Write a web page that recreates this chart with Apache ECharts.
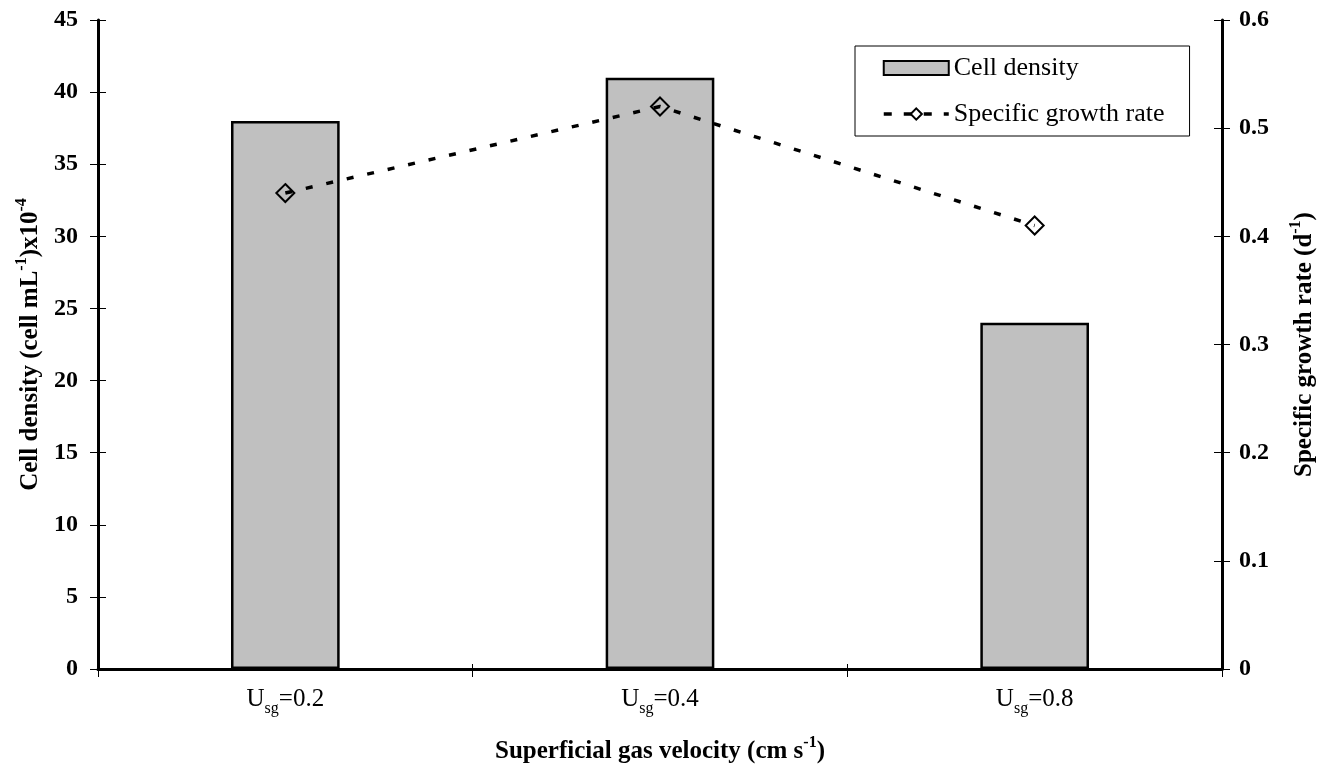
<!DOCTYPE html>
<html>
<head>
<meta charset="utf-8">
<script src="https://cdn.jsdelivr.net/npm/echarts@6/dist/echarts.min.js"></script>
<style>html,body{margin:0;padding:0;background:#fff;}#c{width:1336px;height:769px;}</style>
</head>
<body>
<div id="c"></div>
<script>
const categories = ['0.2', '0.4', '0.8'];
const cellDensity = [38, 41, 24];
const growthRate = [0.44, 0.52, 0.41];
const leftTicks = {min: 0, max: 45, interval: 5};
const rightTicks = {min: 0, max: 0.6, interval: 0.1};

const FONT = '"Liberation Serif", "Times New Roman", serif';
const chart = echarts.init(document.getElementById('c'));

const supRich = {
  b: {fontFamily: FONT, fontWeight: 'bold', fontSize: 25, color: '#000', lineHeight: 29, verticalAlign: 'bottom'},
  sup: {fontFamily: FONT, fontWeight: 'bold', fontSize: 16, color: '#000', lineHeight: 16, verticalAlign: 'top'}
};

chart.setOption({
  animation: false,
  backgroundColor: '#fff',
  grid: {left: 98, right: 114, top: 20, bottom: 99},
  legend: {
    orient: 'vertical',
    left: 855, top: 46,
    padding: [9, 25, 9, 27],
    borderColor: '#000', borderWidth: 1,
    itemWidth: 65, itemHeight: 14,
    itemGap: 20,
    textStyle: {fontFamily: FONT, fontSize: 26, color: '#000'},
    data: [
      {name: 'Cell density', icon: 'rect'},
      {name: 'Specific growth rate', lineStyle: {width: 3.5, type: [8, 12], color: '#000'}}
    ]
  },
  xAxis: [
    {
      type: 'category',
      data: categories,
      boundaryGap: true,
      axisLine: {lineStyle: {color: '#000', width: 3}},
      axisTick: {show: true, length: 8, lineStyle: {color: '#000', width: 1}, alignWithLabel: false},
      axisLabel: {
        margin: 18,
        formatter: v => '{a|U}{s|sg}{a|=' + v + '}',
        rich: {
          a: {fontFamily: FONT, fontSize: 25, color: '#000', lineHeight: 30, verticalAlign: 'top'},
          s: {fontFamily: FONT, fontSize: 16, color: '#000', lineHeight: 16, verticalAlign: 'bottom'}
        }
      },
      name: '{b|Superficial gas velocity (cm s}{sup|-1}{b|)}',
      nameLocation: 'middle',
      nameGap: 66,
      nameTextStyle: {rich: supRich}
    },
    {
      type: 'category',
      data: categories,
      position: 'bottom',
      boundaryGap: true,
      axisLine: {show: false},
      axisLabel: {show: false},
      axisTick: {show: true, inside: true, length: 5, lineStyle: {color: '#000', width: 1}}
    }
  ],
  yAxis: [
    {
      type: 'value', position: 'left',
      min: leftTicks.min, max: leftTicks.max, interval: leftTicks.interval,
      splitLine: {show: false},
      axisLine: {show: true, lineStyle: {color: '#000', width: 3}},
      axisTick: {show: true, length: 8, lineStyle: {color: '#000', width: 1}},
      axisLabel: {margin: 20, fontFamily: FONT, fontWeight: 'bold', fontSize: 24, color: '#000'},
      name: '{b|Cell density (cell mL}{sup|-1}{b|)x10}{sup|-4}',
      nameLocation: 'middle', nameRotate: 90, nameGap: 50,
      nameTextStyle: {rich: supRich}
    },
    {
      type: 'value', position: 'right',
      min: rightTicks.min, max: rightTicks.max, interval: rightTicks.interval,
      splitLine: {show: false},
      axisLine: {show: true, lineStyle: {color: '#000', width: 3}},
      axisTick: {show: true, length: 8, lineStyle: {color: '#000', width: 1}},
      axisLabel: {margin: 17, fontFamily: FONT, fontWeight: 'bold', fontSize: 24, color: '#000'},
      name: '{b|Specific growth rate (d}{sup|-1}{b|)}',
      nameLocation: 'middle', nameRotate: 90, nameGap: 66,
      nameTextStyle: {rich: supRich}
    },
    {
      type: 'value', position: 'left',
      min: leftTicks.min, max: leftTicks.max, interval: leftTicks.interval,
      splitLine: {show: false}, axisLine: {show: false}, axisLabel: {show: false},
      axisTick: {show: true, inside: true, length: 8, lineStyle: {color: '#000', width: 1}}
    },
    {
      type: 'value', position: 'right',
      min: rightTicks.min, max: rightTicks.max, interval: rightTicks.interval,
      splitLine: {show: false}, axisLine: {show: false}, axisLabel: {show: false},
      axisTick: {show: true, inside: true, length: 8, lineStyle: {color: '#000', width: 1}}
    }
  ],
  series: [
    {
      name: 'Cell density',
      type: 'bar',
      yAxisIndex: 0,
      data: cellDensity,
      barWidth: '29%',
      itemStyle: {color: '#c0c0c0', borderColor: '#000', borderWidth: 2.5}
    },
    {
      name: 'Specific growth rate',
      type: 'line',
      yAxisIndex: 1,
      data: growthRate,
      symbol: 'diamond',
      symbolSize: 18,
      lineStyle: {color: '#000', width: 3.5, type: [7, 14]},
      itemStyle: {color: 'rgba(255,255,255,0)', borderColor: '#000', borderWidth: 2}
    }
  ]
});
</script>
</body>
</html>
